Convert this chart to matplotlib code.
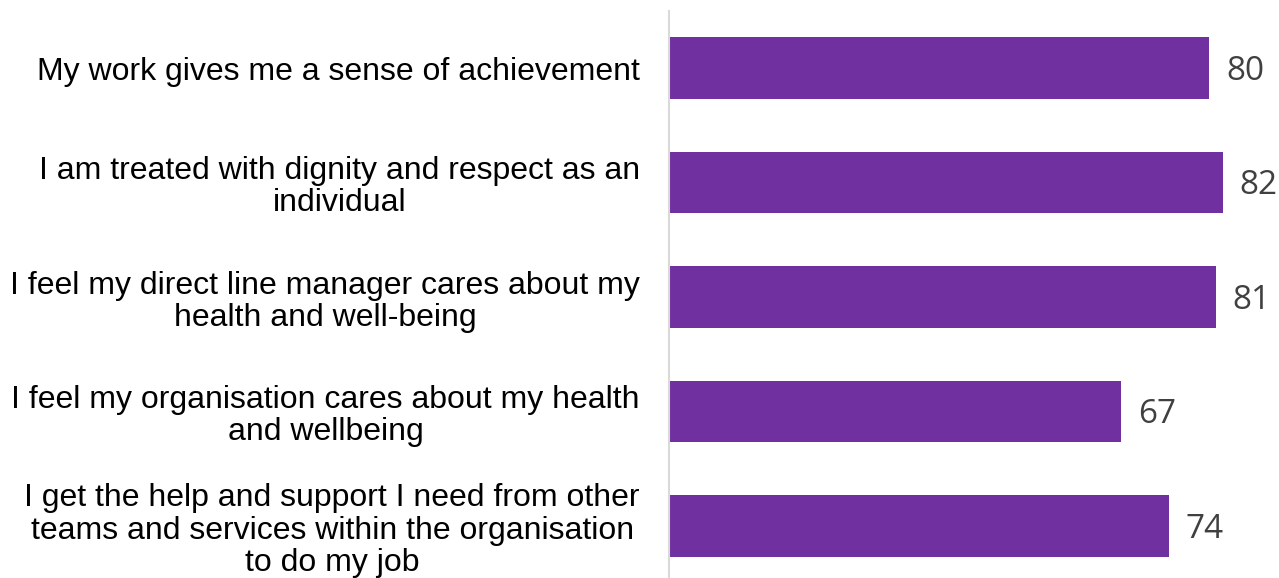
import matplotlib.pyplot as plt

questions = [
    "My work gives me a sense of achievement",
    "I am treated with dignity and respect as an\nindividual",
    "I feel my direct line manager cares about my\nhealth and well-being",
    "I feel my organisation cares about my health\nand wellbeing",
    "I get the help and support I need from other\nteams and services within the organisation\nto do my job",
]
scores = [80, 82, 81, 67, 74]

bar_color = "#7030A0"

fig = plt.figure(figsize=(12.79, 5.78), dpi=100)
ax = fig.add_axes([669 / 1279, 0, 1 - 669 / 1279, 1 - 11 / 578])

ypos = list(range(len(questions)))
ax.barh(ypos, scores, height=0.54, color=bar_color)

for y, v in zip(ypos, scores):
    ax.text(v + 2.5, y + 0.03, f"{v}", va="center", ha="left", fontsize=24,
            color="#404040", family="Open Sans")

ax.set_xlim(0, (1279 - 669) / 6.75)
ax.set_ylim(4.454, -0.498)
ax.set_yticks(ypos)
ax.set_yticklabels(questions, fontsize=23, family="Liberation Sans",
                   multialignment="center", linespacing=1.1)
ax.tick_params(axis="y", length=0, pad=21)
ax.set_xticks([])

for side in ["top", "right", "bottom"]:
    ax.spines[side].set_visible(False)
ax.spines["left"].set_color("#d9d9d9")
ax.spines["left"].set_linewidth(1.5)

fig.savefig("out.png", dpi=100)
